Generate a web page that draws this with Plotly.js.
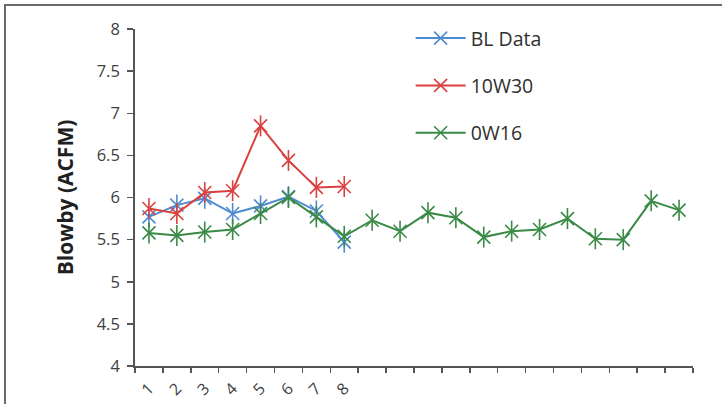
<!DOCTYPE html>
<html>
<head>
<meta charset="utf-8">
<script src="https://cdn.plot.ly/plotly-3.0.1.min.js"></script>
<style>
  html, body { margin: 0; padding: 0; background: #fff; }
  #frame { position: absolute; left: 4px; top: 4px; width: 730px; height: 420px;
           border-left: 2px solid #6a6a6a; border-top: 2px solid #6a6a6a; }
  #chart { position: absolute; left: 0; top: 0; width: 722px; height: 404px; }
</style>
</head>
<body>
<div id="frame"></div>
<div id="chart"></div>
<script>
// Blowby measurements per test run
const runs = [1, 2, 3, 4, 5, 6, 7, 8, 9, 10, 11, 12, 13, 14, 15, 16, 17, 18, 19, 20];
const runLabels = ['1', '2', '3', '4', '5', '6', '7', '8', '', '', '', '', '', '', '', '', '', '', '', ''];

const blData = [5.77, 5.91, 5.99, 5.81, 5.90, 6.01, 5.84, 5.47];
const oil10W30 = [5.87, 5.81, 6.06, 6.08, 6.85, 6.44, 6.12, 6.13];
const oil0W16 = [5.58, 5.55, 5.59, 5.62, 5.81, 6.00, 5.77, 5.54, 5.73, 5.60,
                 5.82, 5.76, 5.53, 5.60, 5.62, 5.75, 5.51, 5.50, 5.96, 5.85];

const seriesDefs = [
  { name: 'BL Data', y: blData, color: '#4f8bd2' },
  { name: '10W30', y: oil10W30, color: '#d9413f' },
  { name: '0W16', y: oil0W16, color: '#3a8a45' }
];

const traces = [];
seriesDefs.forEach((s, i) => {
  const xs = runs.slice(0, s.y.length);
  // line with the diagonal strokes of the star marker
  traces.push({
    type: 'scatter', mode: 'lines+markers', name: s.name,
    x: xs, y: s.y, legendgroup: 'g' + i,
    line: { color: s.color, width: 2 },
    marker: { symbol: 'x-thin-open', size: 13, color: s.color, line: { color: s.color, width: 1.6 } }
  });
  // vertical stroke of the star marker
  traces.push({
    type: 'scatter', mode: 'markers', name: s.name, showlegend: false,
    x: xs, y: s.y, legendgroup: 'g' + i, hoverinfo: 'skip',
    marker: { symbol: 'line-ns-open', size: 15, color: s.color, line: { color: s.color, width: 1.6 } }
  });
});

const tickFont = { family: 'Open Sans, sans-serif', size: 16.5, color: '#404040' };

const layout = {
  width: 722, height: 404,
  margin: { l: 135, r: 29, t: 29, b: 38 },
  paper_bgcolor: 'rgba(0,0,0,0)', plot_bgcolor: 'rgba(0,0,0,0)',
  showlegend: true,
  legend: {
    x: 0.494, y: 1.03, xanchor: 'left', yanchor: 'top',
    traceorder: 'grouped', tracegroupgap: 19,
    font: { family: 'Open Sans, sans-serif', size: 19.5, color: '#303030' },
    bgcolor: 'rgba(0,0,0,0)', itemwidth: 50
  },
  xaxis: {
    type: 'category', tickmode: 'array', tickvals: runs, ticktext: runLabels,
    tickson: 'boundaries', ticks: 'outside', ticklen: 5, tickwidth: 1.5, tickcolor: '#555',
    tickangle: -45, tickfont: { family: 'Open Sans, sans-serif', size: 16, color: '#404040' },
    ticklabelstandoff: 5,
    showline: true, linecolor: '#555', linewidth: 1.8,
    showgrid: false, zeroline: false, range: [-0.5, 19.5]
  },
  yaxis: {
    range: [4, 8], dtick: 0.5, tick0: 4,
    ticks: 'outside', ticklen: 6, tickwidth: 1.5, tickcolor: '#555',
    tickfont: tickFont, ticklabelstandoff: 4,
    showline: true, linecolor: '#555', linewidth: 1.8,
    showgrid: false, zeroline: false,
    title: { text: 'Blowby (ACFM)', standoff: 17,
             font: { family: 'Open Sans, sans-serif', size: 21, color: '#202020', weight: 'bold' } }
  }
};

Plotly.newPlot('chart', traces, layout, { displayModeBar: false, staticPlot: true });
</script>
</body>
</html>
